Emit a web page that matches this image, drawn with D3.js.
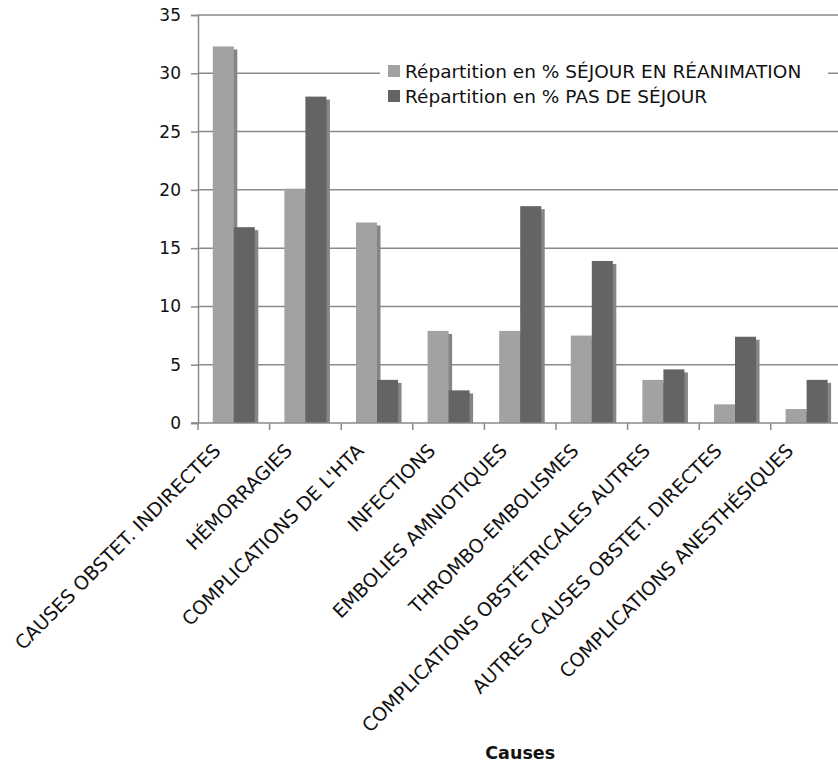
<!DOCTYPE html>
<html>
<head>
<meta charset="utf-8">
<script src="https://cdn.jsdelivr.net/npm/d3@7"></script>
<style>
  html, body { margin: 0; padding: 0; background: #fff; }
  svg { display: block; }
  text { font-family: "DejaVu Sans", Verdana, sans-serif; fill: #111; }
</style>
</head>
<body>
<svg id="chart" width="838" height="763"></svg>
<script>
// Causes of maternal death, share (%) by ICU stay
const categories = [
  "CAUSES OBSTET. INDIRECTES",
  "HÉMORRAGIES",
  "COMPLICATIONS DE L'HTA",
  "INFECTIONS",
  "EMBOLIES AMNIOTIQUES",
  "THROMBO-EMBOLISMES",
  "COMPLICATIONS OBSTÉTRICALES AUTRES",
  "AUTRES CAUSES OBSTET. DIRECTES",
  "COMPLICATIONS ANESTHÉSIQUES"
];
const sejourRea   = [32.3, 20.1, 17.2, 7.9, 7.9, 7.5, 3.7, 1.6, 1.2];
const pasDeSejour = [16.8, 28.0, 3.7, 2.8, 18.6, 13.9, 4.6, 7.4, 3.7];
const seriesNames = [
  "Répartition en % SÉJOUR EN RÉANIMATION",
  "Répartition en % PAS DE SÉJOUR"
];
const yTicks = [0, 5, 10, 15, 20, 25, 30, 35];
const axisTitle = "Causes";

const colors = ["#a2a2a2", "#646464"];
const shadowColor = "#858585";

const svg = d3.select("#chart");
const plotLeft = 198, plotRight = 842.4, plotTop = 15, plotBottom = 423;

const y = d3.scaleLinear().domain([0, 35]).range([plotBottom, plotTop]);
const x = d3.scaleBand().domain(categories).range([plotLeft, plotRight])
  .paddingInner(0.413).paddingOuter(0.2065);
const x1 = d3.scaleBand().domain([0, 1]).range([0, x.bandwidth()]);

// horizontal gridlines
svg.append("g").selectAll("line").data(yTicks.filter(d => d > 0)).join("line")
  .attr("x1", plotLeft).attr("x2", 838)
  .attr("y1", d => y(d)).attr("y2", d => y(d))
  .attr("stroke", "#8a8a8a").attr("stroke-width", 1.5);

// bars with a drop shadow offset to the lower right
const series = [sejourRea, pasDeSejour];
const gBars = svg.append("g");
series.forEach((vals, s) => vals.forEach((v, i) => {
  const bx = x(categories[i]) + x1(s);
  const by = y(v);
  gBars.append("rect")
    .attr("x", bx + 3.5).attr("y", by + 3)
    .attr("width", x1.bandwidth()).attr("height", Math.max(0, plotBottom - by - 3))
    .attr("fill", shadowColor);
  gBars.append("rect")
    .attr("x", bx).attr("y", by)
    .attr("width", x1.bandwidth()).attr("height", plotBottom - by)
    .attr("fill", colors[s]);
}));

// y axis
const yAxis = svg.append("g").attr("transform", `translate(${plotLeft},0)`)
  .call(d3.axisLeft(y).tickValues(yTicks).tickSize(7).tickPadding(10));
yAxis.select(".domain").attr("stroke", "#8a8a8a").attr("stroke-width", 1.5);
yAxis.selectAll(".tick line").attr("stroke", "#8a8a8a").attr("stroke-width", 1.5);
yAxis.selectAll(".tick text").attr("font-size", 17).attr("font-family", "DejaVu Sans").attr("fill", "#111");

// x axis baseline and category boundary ticks
svg.append("line").attr("x1", plotLeft - 7).attr("x2", 838)
  .attr("y1", plotBottom).attr("y2", plotBottom)
  .attr("stroke", "#8a8a8a").attr("stroke-width", 1.5);
const bounds = d3.range(categories.length + 1).map(k => plotLeft + k * x.step());
svg.append("g").selectAll("line").data(bounds).join("line")
  .attr("x1", d => d).attr("x2", d => d)
  .attr("y1", plotBottom).attr("y2", plotBottom + 7)
  .attr("stroke", "#8a8a8a").attr("stroke-width", 1.5);

// rotated category labels
svg.append("g").selectAll("text").data(categories).join("text")
  .attr("transform", d => `translate(${x(d) + x.bandwidth() / 2 - 12},${plotBottom + 29}) rotate(-45)`)
  .attr("text-anchor", "end")
  .attr("font-size", 19)
  .text(d => d);

// axis title
svg.append("text")
  .attr("x", (plotLeft + plotRight) / 2).attr("y", 759)
  .attr("text-anchor", "middle")
  .attr("font-size", 17.5).attr("font-weight", "bold")
  .text(axisTitle);

// legend
const legend = svg.append("g");
legend.append("rect").attr("x", 380).attr("y", 58).attr("width", 448).attr("height", 52).attr("fill", "#fff");
seriesNames.forEach((name, s) => {
  const cy = 71 + s * 25;
  legend.append("rect").attr("x", 388).attr("y", cy - 6).attr("width", 12).attr("height", 12).attr("fill", colors[s]);
  legend.append("text").attr("x", 405).attr("y", cy + 6.5).attr("font-size", 18.5).text(name);
});
</script>
</body>
</html>
